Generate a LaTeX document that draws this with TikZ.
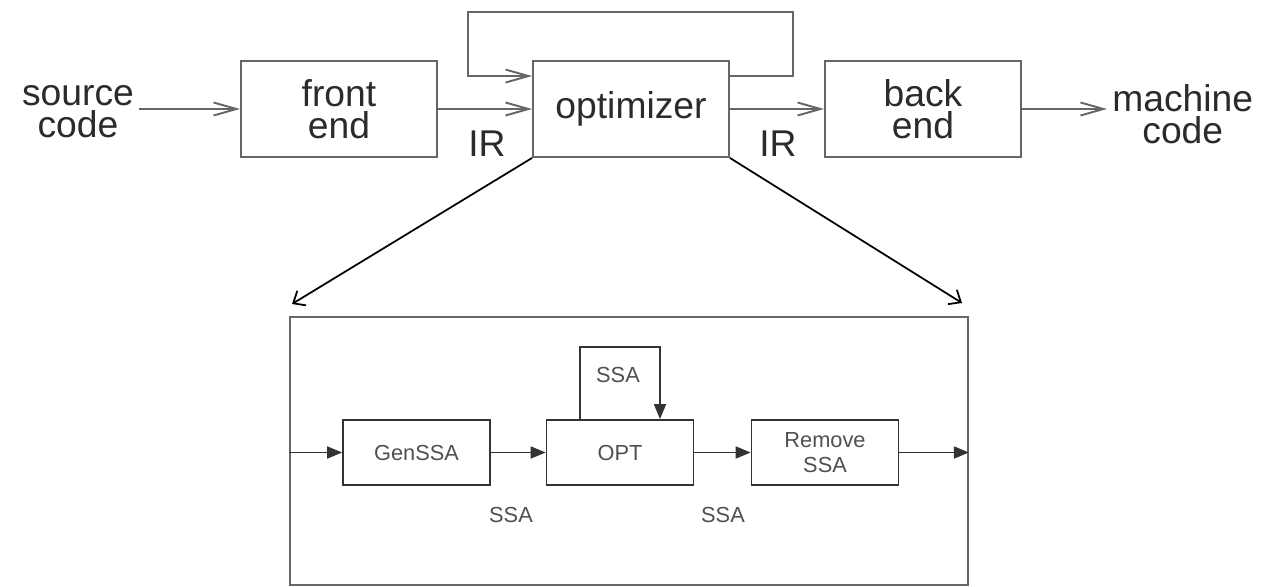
\documentclass[tikz,border=0pt]{standalone}
\usepackage{fontspec}
\setmainfont{Liberation Sans}
\usetikzlibrary{arrows.meta}
\definecolor{linegray}{HTML}{666666}
\definecolor{textdark}{HTML}{2B2B2B}
\definecolor{passgray}{HTML}{333333}
\definecolor{passtext}{HTML}{505050}
\begin{document}
\begin{tikzpicture}[x=0.02cm,y=-0.02cm,
  stage/.style={draw=linegray,line width=1.1pt,minimum width=3.92cm,minimum height=1.92cm,inner sep=0pt,align=center,text=textdark,font=\fontsize{21.2}{18.2}\selectfont},
  word/.style={inner sep=0.1cm,align=center,text=textdark,font=\fontsize{21.2}{18.2}\selectfont},
  flow/.style={draw=linegray,line width=1.1pt,-{Straight Barb[length=4.6mm,width=2.6mm]}},
  zoomline/.style={draw=black,line width=1pt,-{Straight Barb[length=2mm,width=3.4mm]}},
  pass/.style={draw=passgray,line width=1pt,minimum width=2.94cm,minimum height=1.3cm,inner sep=0pt,align=center,text=passtext,font=\fontsize{12.4}{14.6}\selectfont},
  small/.style={inner sep=0pt,text=passtext,font=\fontsize{12.4}{14.6}\selectfont},
  passflow/.style={draw=passgray,line width=1pt,-{Triangle[length=3mm,width=2.4mm]}}]
\useasboundingbox (0,0) rectangle (1266,587);
\node[word] (src) at (78,112) {source\\code};
\node[stage] (front) at (339,109) {front\\end};
\node[stage] (opt) at (631,109) {optimizer};
\node[stage] (back) at (923,109) {back\\end};
\node[word,anchor=west] (mach) at (1107,114) {machine\\code};
\node[word] (ir1) at (487,144) {IR};
\node[word] (ir2) at (778,144) {IR};
\coordinate (fbL) at (468,12);
\coordinate (fbR) at (793,12);
\draw[flow] (src.east |- front) -- (front);
\draw[flow] (front) -- (opt);
\draw[flow] (opt) -- (back);
\draw[flow] (back) -- (mach.west |- back);
\draw[flow] ([yshift=-0.32cm]opt.north east) -| (fbR) -- (fbL) |- ([yshift=-0.32cm]opt.north west);
\node[draw=linegray,line width=1.1pt,minimum width=13.56cm,minimum height=5.36cm,inner sep=0pt] (detail) at (629,451) {};
\coordinate (zl) at (292,304);
\coordinate (zr) at (962,303);
\draw[zoomline] (opt.south west) -- (zl);
\draw[zoomline] (opt.south east) -- (zr);
\node[pass] (gen) at (416.5,452.5) {GenSSA};
\node[pass] (optp) at (620,452.5) {OPT};
\node[pass] (rem) at (825,452.5) {Remove\\SSA};
\coordinate (ssaL) at (580,347);
\coordinate (ssaR) at (660,347);
\draw[passflow] (detail.west |- gen) -- (gen);
\draw[passflow] (gen) -- (optp);
\draw[passflow] (optp) -- (rem);
\draw[passflow] (rem) -- (detail.east |- rem);
\draw[passflow] ([xshift=-0.8cm]optp.north) -- (ssaL) -- (ssaR) -- ([xshift=0.8cm]optp.north);
\node[small] (ssa1) at (618,375) {SSA};
\node[small] (ssa2) at (511,515) {SSA};
\node[small] (ssa3) at (723,515) {SSA};
\end{tikzpicture}
\end{document}
